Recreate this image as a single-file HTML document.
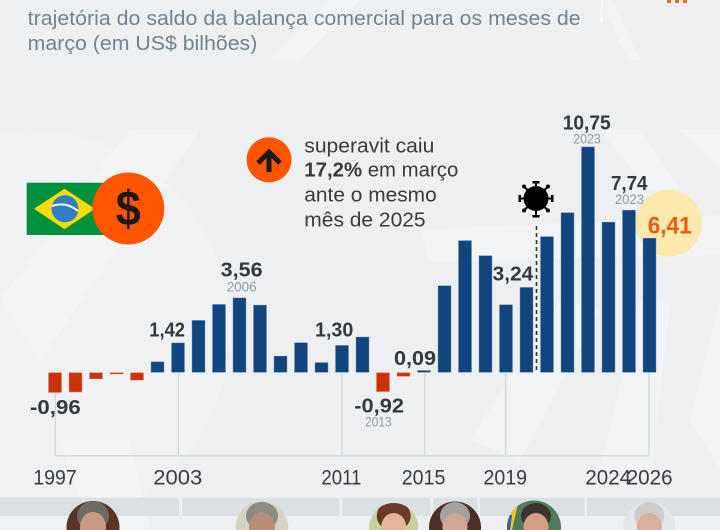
<!DOCTYPE html>
<html><head><meta charset="utf-8">
<style>
html,body{margin:0;padding:0;background:#EFF0F2;}
svg{display:block;}
text{font-family:"Liberation Sans",sans-serif;}
</style></head><body>
<svg width="720" height="530" viewBox="0 0 720 530" xmlns="http://www.w3.org/2000/svg">
<defs>
  <clipPath id="p1"><circle cx="93" cy="527.5" r="26.5"/></clipPath>
  <clipPath id="p2"><circle cx="262" cy="527.5" r="26.3"/></clipPath>
  <clipPath id="p3"><circle cx="393.7" cy="527.5" r="24.5"/></clipPath>
  <clipPath id="p4"><circle cx="455" cy="527.5" r="26"/></clipPath>
  <clipPath id="p5"><circle cx="534" cy="527.5" r="27"/></clipPath>
  <clipPath id="p6"><circle cx="649.3" cy="527.5" r="26"/></clipPath>
</defs>
<rect width="720" height="530" fill="#EEEFF1"/>
<!-- background subtle rays -->
<g fill="#FFFFFF" opacity="0.26">
  <polygon points="0,300 130,130 200,130 40,360"/>
  <polygon points="420,230 720,215 720,255 430,262"/>
  <polygon points="600,130 640,130 680,190 650,190"/>
  <polygon points="680,130 720,130 720,170"/>
  <polygon points="470,440 560,300 600,310 520,460"/>
  <polygon points="600,470 640,300 670,305 650,480"/>
  <polygon points="690,420 720,300 720,470"/>
  <polygon points="600,0 612,0 640,60 628,60"/>
  <polygon points="330,0 360,0 300,60 270,60"/>
  <polygon points="60,440 130,440 150,530 90,530"/>
</g>
<circle cx="30" cy="330" r="200" fill="#FFFFFF" opacity="0.15"/>
<line x1="601.5" y1="0" x2="601.5" y2="22" stroke="#FFFFFF" stroke-width="1.5" opacity="0.9"/>
<rect x="667" y="0" width="4" height="3" fill="#F26522"/>
<rect x="675" y="0" width="4" height="3" fill="#F26522"/>
<rect x="683" y="0" width="4" height="3" fill="#F26522"/>

<!-- header -->
<text x="27.7" y="25" font-size="20" fill="#6F8593" textLength="553" lengthAdjust="spacingAndGlyphs">trajetória do saldo da balança comercial para os meses de</text>
<text x="27.7" y="50" font-size="20" fill="#6F8593" textLength="229.6" lengthAdjust="spacingAndGlyphs">março (em US$ bilhões)</text>

<!-- flag -->
<rect x="26.7" y="182.7" width="82" height="52.3" fill="#00913F"/>
<polygon points="34,208.8 64.5,188.7 95,208.8 64.5,229.3" fill="#F7DC0A"/>
<circle cx="65" cy="208.8" r="13.5" fill="#2C7FC6"/>
<path d="M52,206 Q66,201 78,211" stroke="#FFFFFF" stroke-width="2" fill="none"/>
<!-- dollar circle -->
<circle cx="128.3" cy="208.5" r="36" fill="#FF5500"/>
<text x="128.3" y="225.5" font-size="49" font-weight="bold" fill="#1A1A1A" text-anchor="middle" textLength="25" lengthAdjust="spacingAndGlyphs">$</text>

<!-- arrow circle + annotation -->
<circle cx="269" cy="159.8" r="22.5" fill="#FF5500"/>
<line x1="269" y1="172" x2="269" y2="154" stroke="#1A1A1A" stroke-width="5"/>
<polyline points="258,163 269,152 280,163" stroke="#1A1A1A" stroke-width="5" fill="none"/>
<text x="304.3" y="152.7" font-size="20" fill="#3B3B3B" textLength="130" lengthAdjust="spacingAndGlyphs">superavit caiu</text>
<text x="304.3" y="176.7" font-size="20" fill="#3B3B3B" textLength="154" lengthAdjust="spacingAndGlyphs"><tspan font-weight="bold">17,2%</tspan> em março</text>
<text x="304.3" y="201.7" font-size="20" fill="#3B3B3B" textLength="132.4" lengthAdjust="spacingAndGlyphs">ante o mesmo</text>
<text x="304.3" y="226.7" font-size="20" fill="#3B3B3B" textLength="121.3" lengthAdjust="spacingAndGlyphs">mês de 2025</text>

<!-- grid frame -->
<g stroke="#D4DBDE" stroke-width="1.5" fill="none">
  <line x1="55.3" y1="392" x2="55.3" y2="455.7"/>
  <line x1="178.3" y1="372.5" x2="178.3" y2="455.7"/>
  <line x1="342" y1="372.5" x2="342" y2="455.7"/>
  <line x1="424.8" y1="372.5" x2="424.8" y2="455.7"/>
  <line x1="505.6" y1="372.5" x2="505.6" y2="455.7"/>
  <line x1="649" y1="372.5" x2="649" y2="455.7"/>
  <line x1="55.3" y1="455.7" x2="649" y2="455.7"/>
</g>

<!-- yellow highlight -->
<circle cx="668.8" cy="223.3" r="33.3" fill="#FCE9AE"/>

<!-- dashed covid line -->
<line x1="536.5" y1="226" x2="536.5" y2="372" stroke="#333" stroke-width="1.6" stroke-dasharray="4,3"/>

<!-- bars -->
<g stroke="#FFFFFF" stroke-opacity="0.3" stroke-width="1">
<g fill="#CB3208">
  <rect x="48.3" y="372.5" width="13.4" height="20.2"/>
  <rect x="68.8" y="372.5" width="13.4" height="19.7"/>
  <rect x="89.3" y="372.5" width="13.4" height="6.5"/>
  <rect x="109.8" y="372.5" width="13.4" height="1.7"/>
  <rect x="130.3" y="372.5" width="13.4" height="7.8"/>
  <rect x="376.3" y="372.5" width="13.4" height="19.3"/>
  <rect x="396.8" y="372.5" width="13.4" height="4"/>
</g>
<g fill="#11457E">
  <rect x="150.8" y="361.6" width="13.4" height="10.9"/>
  <rect x="171.3" y="342.7" width="13.4" height="29.8"/>
  <rect x="191.8" y="320.2" width="13.4" height="52.3"/>
  <rect x="212.3" y="304.2" width="13.4" height="68.3"/>
  <rect x="232.8" y="297.7" width="13.4" height="74.8"/>
  <rect x="253.3" y="304.9" width="13.4" height="67.6"/>
  <rect x="273.8" y="355.9" width="13.4" height="16.6"/>
  <rect x="294.3" y="342.5" width="13.4" height="30"/>
  <rect x="314.8" y="362.4" width="13.4" height="10.1"/>
  <rect x="335.3" y="345.2" width="13.4" height="27.3"/>
  <rect x="355.8" y="336.8" width="13.4" height="35.7"/>
  <rect x="417.3" y="370.3" width="13.4" height="2.2"/>
  <rect x="437.8" y="285.5" width="13.4" height="87"/>
  <rect x="458.3" y="240.4" width="13.4" height="132.1"/>
  <rect x="478.8" y="255.5" width="13.4" height="117"/>
  <rect x="499.3" y="304.5" width="13.4" height="68"/>
  <rect x="519.8" y="287.2" width="13.4" height="85.3"/>
  <rect x="540.3" y="236.4" width="13.4" height="136.1"/>
  <rect x="560.8" y="212.5" width="13.4" height="160"/>
  <rect x="581.3" y="146.7" width="13.4" height="225.8"/>
  <rect x="601.8" y="221.9" width="13.4" height="150.6"/>
  <rect x="622.3" y="210" width="13.4" height="162.5"/>
  <rect x="642.8" y="237.9" width="13.4" height="134.6"/>
</g>
</g>

<!-- virus -->
<g fill="#000" stroke="#000">
  <g stroke-width="2">
    <line x1="536" y1="198.5" x2="536" y2="182"/>
    <line x1="536" y1="198.5" x2="536" y2="216"/>
    <line x1="536" y1="198.5" x2="519.5" y2="198.5"/>
    <line x1="536" y1="198.5" x2="552.5" y2="198.5"/>
    <line x1="536" y1="198.5" x2="524.5" y2="187"/>
    <line x1="536" y1="198.5" x2="547.5" y2="187"/>
    <line x1="536" y1="198.5" x2="524.5" y2="210"/>
    <line x1="536" y1="198.5" x2="547.5" y2="210"/>
  </g>
  <circle cx="536" cy="198.5" r="12.5" stroke="none"/>
  <g stroke="none">
    <rect x="532.5" y="181" width="7" height="2.5"/>
    <rect x="532.5" y="215" width="7" height="2.5"/>
    <rect x="518.5" y="195" width="2.5" height="7"/>
    <rect x="551" y="195" width="2.5" height="7"/>
    <circle cx="524" cy="186.5" r="2"/>
    <circle cx="548" cy="186.5" r="2"/>
    <circle cx="524" cy="210.5" r="2"/>
    <circle cx="548" cy="210.5" r="2"/>
  </g>
</g>

<!-- value labels -->
<g font-weight="bold" fill="#333A3F" font-size="20">
  <text x="30" y="414" textLength="50.7" lengthAdjust="spacingAndGlyphs">-0,96</text>
  <text x="149.3" y="336.7" textLength="35.7" lengthAdjust="spacingAndGlyphs">1,42</text>
  <text x="220.7" y="276.7" textLength="42" lengthAdjust="spacingAndGlyphs">3,56</text>
  <text x="315" y="336.7" textLength="38.3" lengthAdjust="spacingAndGlyphs">1,30</text>
  <text x="354.3" y="412.7" textLength="49.7" lengthAdjust="spacingAndGlyphs">-0,92</text>
  <text x="394" y="365" textLength="42" lengthAdjust="spacingAndGlyphs">0,09</text>
  <text x="492.7" y="280.7" textLength="40.6" lengthAdjust="spacingAndGlyphs">3,24</text>
  <text x="562.7" y="129.3" textLength="48" lengthAdjust="spacingAndGlyphs">10,75</text>
  <text x="611" y="190" textLength="36.5" lengthAdjust="spacingAndGlyphs">7,74</text>
</g>
<g fill="#8A9DAB" font-size="13.5">
  <text x="226.7" y="291.7" textLength="30" lengthAdjust="spacingAndGlyphs">2006</text>
  <text x="365" y="426.7" textLength="26.7" lengthAdjust="spacingAndGlyphs">2013</text>
  <text x="573.3" y="143.3" textLength="27.4" lengthAdjust="spacingAndGlyphs">2023</text>
  <text x="615" y="204" textLength="29" lengthAdjust="spacingAndGlyphs">2023</text>
</g>
<text x="647.7" y="233.3" font-size="24" font-weight="bold" fill="#F25A0A" textLength="44" lengthAdjust="spacingAndGlyphs">6,41</text>

<!-- year axis labels -->
<g fill="#383D42" font-size="21">
  <text x="33.3" y="484.3" textLength="43.4" lengthAdjust="spacingAndGlyphs">1997</text>
  <text x="153.3" y="484.3" textLength="49" lengthAdjust="spacingAndGlyphs">2003</text>
  <text x="321.4" y="484.3" textLength="40" lengthAdjust="spacingAndGlyphs">2011</text>
  <text x="401.7" y="484.3" textLength="43.7" lengthAdjust="spacingAndGlyphs">2015</text>
  <text x="483.5" y="484.3" textLength="43.5" lengthAdjust="spacingAndGlyphs">2019</text>
  <text x="585.4" y="484.3" textLength="45.6" lengthAdjust="spacingAndGlyphs">2024</text>
  <text x="626.7" y="484.3" textLength="45.9" lengthAdjust="spacingAndGlyphs">2026</text>
</g>

<!-- president band -->
<g fill="#DAE0E3">
  <rect x="0" y="497.7" width="179" height="18.3"/>
  <rect x="182" y="497.7" width="157.5" height="18.3"/>
  <rect x="342.2" y="497.7" width="88" height="18.3"/>
  <rect x="433" y="497.7" width="44.5" height="18.3"/>
  <rect x="480" y="497.7" width="104.5" height="18.3"/>
  <rect x="587" y="497.7" width="133" height="18.3"/>
</g>

<!-- portraits -->
<g clip-path="url(#p1)">
  <rect x="60" y="495" width="70" height="40" fill="#5B3426"/>
  <ellipse cx="93" cy="516" rx="16" ry="15" fill="#6E6A66"/>
  <ellipse cx="93" cy="527" rx="13" ry="15" fill="#C99A82"/>
</g>
<g clip-path="url(#p2)">
  <rect x="230" y="495" width="70" height="40" fill="#D7D1C4"/>
  <ellipse cx="262" cy="516" rx="16" ry="14" fill="#8E8A84"/>
  <ellipse cx="262" cy="527" rx="13" ry="15" fill="#B98E76"/>
</g>
<g clip-path="url(#p3)">
  <rect x="365" y="495" width="60" height="40" fill="#C9D09C"/>
  <ellipse cx="393.7" cy="516" rx="17" ry="15" fill="#6A3A28"/>
  <ellipse cx="393.7" cy="527" rx="12.5" ry="14" fill="#E3B496"/>
</g>
<g clip-path="url(#p4)">
  <rect x="425" y="495" width="60" height="40" fill="#4C2F26"/>
  <ellipse cx="455" cy="516" rx="15" ry="14" fill="#A5A19E"/>
  <ellipse cx="455" cy="527" rx="12.5" ry="14" fill="#D1A893"/>
</g>
<g clip-path="url(#p5)">
  <rect x="505" y="495" width="60" height="40" fill="#4E7C5A"/>
  <polygon points="505,500 520,495 512,530 505,530" fill="#F1C616"/>
  <polygon points="505,515 512,515 510,530 505,530" fill="#2C5FA8"/>
  <ellipse cx="536" cy="516" rx="15" ry="13" fill="#3A3430"/>
  <ellipse cx="536" cy="527" rx="12.5" ry="14" fill="#D3A083"/>
</g>
<g clip-path="url(#p6)">
  <rect x="620" y="495" width="60" height="40" fill="#E4E6E8"/>
  <ellipse cx="649.3" cy="516" rx="15" ry="14" fill="#CFCBC8"/>
  <ellipse cx="649.3" cy="527" rx="12.5" ry="14" fill="#D8AE9C"/>
</g>
</svg>
</body></html>
